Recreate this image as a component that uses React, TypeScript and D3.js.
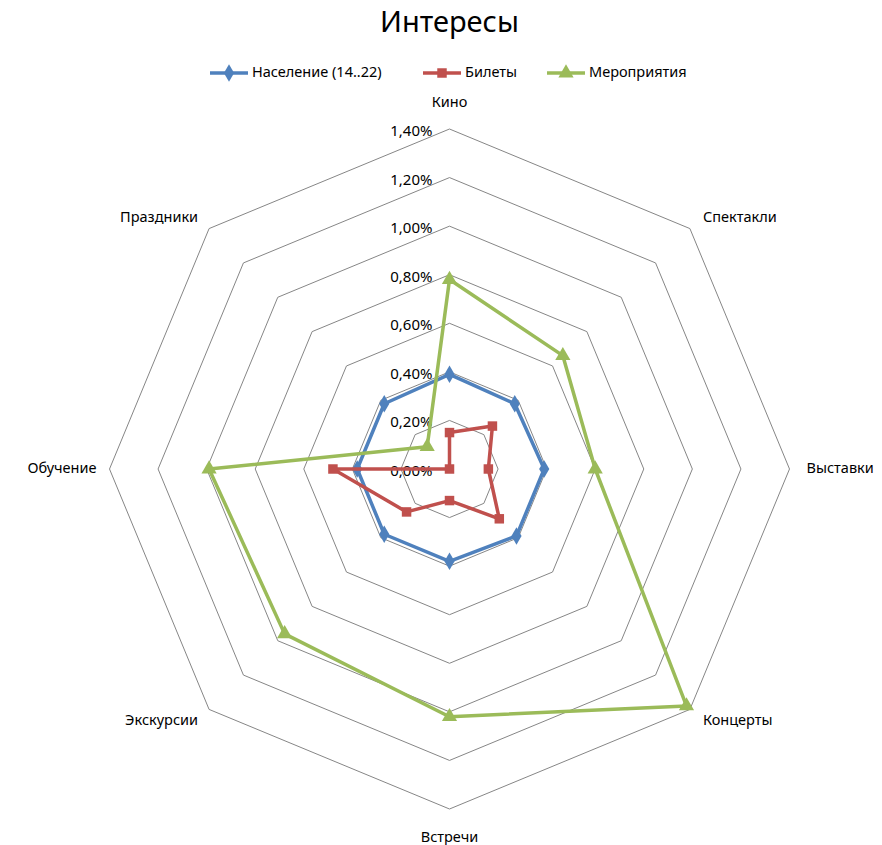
import * as d3 from 'd3';
import { useEffect, useRef } from 'react';

const categories = ['Кино', 'Спектакли', 'Выставки', 'Концерты', 'Встречи', 'Экскурсии', 'Обучение', 'Праздники'];
const population = [0.39, 0.38, 0.39, 0.39, 0.38, 0.38, 0.38, 0.38];
const tickets = [0.15, 0.25, 0.16, 0.29, 0.13, 0.25, 0.48, 0.0];
const events = [0.78, 0.66, 0.6, 1.38, 1.02, 0.96, 0.99, 0.13];
const ticks = [0, 0.2, 0.4, 0.6, 0.8, 1.0, 1.2, 1.4];

const seriesNames = ['Население (14..22)', 'Билеты', 'Мероприятия'];
const seriesColors = ['#4F81BD', '#C0504D', '#9BBB59'];

const FONT = '"Noto Sans", sans-serif';

const App = () => {
  const ref = useRef<SVGSVGElement | null>(null);

  useEffect(() => {
    if (!ref.current) return;
    const svg = d3.select(ref.current);
    svg.selectAll('*').remove();

    const width = 882;
    const height = 845;
    const cx = 449.5;
    const cy = 469;
    const rMax = 340;

    svg.attr('width', width).attr('height', height);

    const r = d3.scaleLinear().domain([0, 1.4]).range([0, rMax]);
    const angle = d3
      .scaleLinear()
      .domain([0, categories.length])
      .range([0, Math.PI * 2]);

    const g = svg.append('g').attr('transform', `translate(${cx},${cy})`);

    const ringLine = d3
      .lineRadial<number>()
      .angle((_, i) => angle(i))
      .radius(d => r(d))
      .curve(d3.curveLinearClosed);

    // grid rings
    g.selectAll('.ring')
      .data(ticks.filter(t => t > 0))
      .enter()
      .append('path')
      .attr('d', t => ringLine(categories.map(() => t)))
      .attr('fill', 'none')
      .attr('stroke', '#868686')
      .attr('stroke-width', 1);

    // tick labels
    g.selectAll('.tick')
      .data(ticks)
      .enter()
      .append('text')
      .attr('x', -17)
      .attr('y', t => -r(t) + 3)
      .attr('text-anchor', 'end')
      .attr('dominant-baseline', 'middle')
      .attr('font-family', FONT)
      .attr('font-size', 15)
      .attr('fill', '#000')
      .text(t => d3.format('.2f')(t).replace('.', ',') + '%');

    // category labels
    categories.forEach((c, i) => {
      const a = angle(i);
      const sx = Math.sin(a);
      const sy = -Math.cos(a);
      const vx = rMax * sx;
      const vy = rMax * sy;
      let x = vx;
      let y = vy;
      let anchor = 'middle';
      if (Math.abs(sx) < 0.01) {
        y = vy + (sy < 0 ? -26 : 29);
      } else {
        anchor = sx > 0 ? 'start' : 'end';
        const horiz = Math.abs(sy) < 0.01;
        x = vx + (sx > 0 ? (horiz ? 17 : 13) : (horiz ? -13 : -11));
        y = horiz ? vy : vy + (sy < 0 ? -10 : 12);
      }
      g.append('text')
        .attr('x', x)
        .attr('y', y)
        .attr('text-anchor', anchor)
        .attr('dominant-baseline', 'middle')
        .attr('font-family', FONT)
        .attr('font-size', 14.5)
        .attr('fill', '#000')
        .text(c);
    });

    const seriesData = [population, tickets, events];
    const pt = (v: number, i: number): [number, number] => [
      r(v) * Math.sin(angle(i)),
      -r(v) * Math.cos(angle(i))
    ];

    const symbols = [d3.symbolDiamond, d3.symbolSquare, d3.symbolTriangle];
    const sizes = [90, 90, 100];

    seriesData.forEach((vals, si) => {
      const color = seriesColors[si];
      g.append('path')
        .attr('d', ringLine(vals))
        .attr('fill', 'none')
        .attr('stroke', color)
        .attr('stroke-width', 3.5)
        .attr('stroke-linejoin', 'round');
      g.selectAll(`.m${si}`)
        .data(vals)
        .enter()
        .append('path')
        .attr('transform', (v, i) => {
          const [x, y] = pt(v, i);
          return `translate(${x},${y})`;
        })
        .attr('d', d3.symbol().type(symbols[si]).size(sizes[si])())
        .attr('fill', color);
    });

    // title
    svg
      .append('text')
      .attr('x', cx)
      .attr('y', 24)
      .attr('text-anchor', 'middle')
      .attr('dominant-baseline', 'middle')
      .attr('font-family', FONT)
      .attr('font-size', 29)
      .attr('fill', '#000')
      .text('Интересы');

    // legend
    const legendX = [210, 423, 547];
    const legend = svg.append('g');
    seriesNames.forEach((name, i) => {
      const x0 = legendX[i];
      const lg = legend.append('g').attr('transform', `translate(${x0},73)`);
      lg.append('line')
        .attr('x1', 0)
        .attr('x2', 38)
        .attr('stroke', seriesColors[i])
        .attr('stroke-width', 3.5);
      lg.append('path')
        .attr('transform', 'translate(19,0)')
        .attr('d', d3.symbol().type(symbols[i]).size(sizes[i])())
        .attr('fill', seriesColors[i]);
      lg.append('text')
        .attr('x', 42)
        .attr('y', 0)
        .attr('dominant-baseline', 'middle')
        .attr('font-family', FONT)
        .attr('font-size', 14.5)
        .attr('fill', '#000')
        .text(name);
    });
  }, []);

  return <svg ref={ref} style={{ position: 'absolute', left: 0, top: 0 }} />;
};

export default App;
